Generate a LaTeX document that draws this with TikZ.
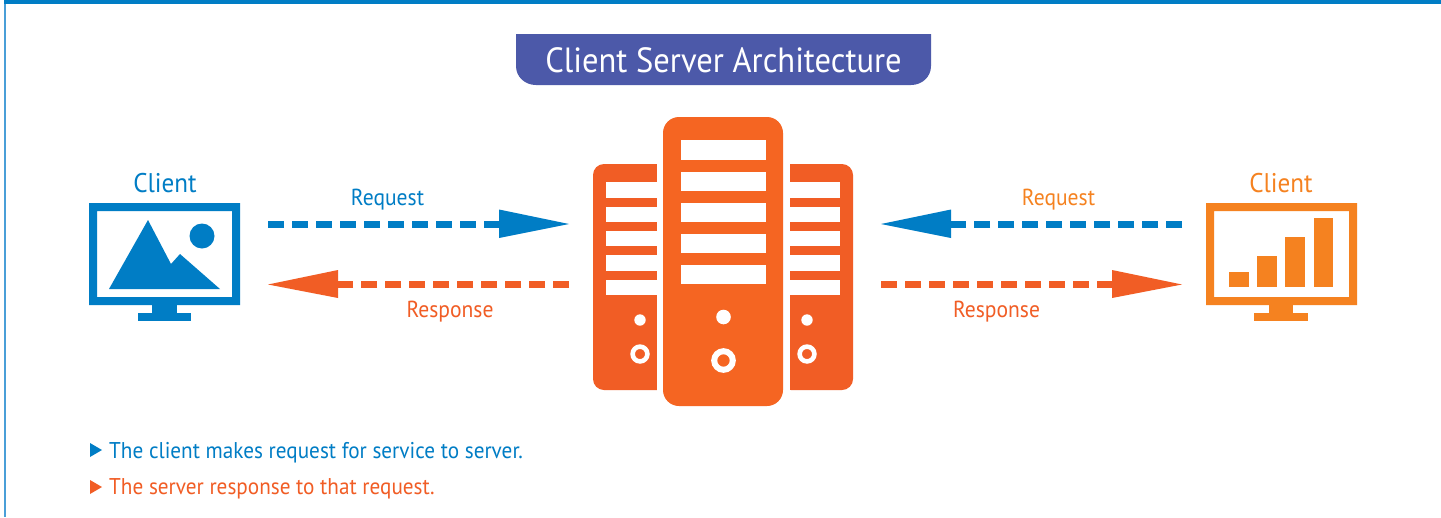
\documentclass[tikz,border=0pt]{standalone}
\usepackage{fontspec}
\setmainfont[FakeStretch=0.93]{PT Sans}
\definecolor{cblue}{HTML}{007DC5}
\definecolor{cedge}{HTML}{4A9FD8}
\definecolor{corange}{HTML}{F58220}
\definecolor{cred}{HTML}{F15D25}
\definecolor{cmid}{HTML}{F56522}
\definecolor{ctitle}{HTML}{4C59A9}
\tikzset{x=1pt,y=-1pt,
 lbl/.style={inner sep=0pt,font=\fontsize{23.2}{26}\selectfont},
 dashline/.style={line width=7pt,dash pattern=on 16pt off 8pt}}
\begin{document}
\begin{tikzpicture}
\useasboundingbox (0,0) rectangle (1441,517);
\fill[white] (0,0) rectangle (1441,517);
\fill[cblue] (4,0) rectangle (1441,4);
\fill[cedge] (4,4) rectangle (6,517);
% title
\fill[ctitle] (516,34) -- (931,34) -- (931,66) .. controls (931,77) and (922,85) .. (911,85) -- (536,85) .. controls (525,85) and (516,77) .. (516,66) -- cycle;
\node[lbl,white,font=\fontsize{35}{40}\selectfont] (title) at (723.5,60) {Client Server Architecture};
% left client
\node[lbl,text=cblue,font=\fontsize{27}{30}\selectfont] (cl) at (165,183) {Client};
\fill[cblue,even odd rule] (89,203) rectangle (240,305) (97,211) rectangle (232,297);
\fill[cblue] (152,305) rectangle (177,313);
\fill[cblue] (138,313) rectangle (191,321);
\fill[cblue] (109,289) -- (148,220) -- (171,264) -- (180,254) -- (220,289) -- cycle;
\fill[cblue] (202,236) circle (12.5);
% right client
\node[lbl,text=corange,font=\fontsize{27}{30}\selectfont] (cr) at (1281,183) {Client};
\fill[corange,even odd rule] (1206,203) rectangle (1357,305) (1214,211) rectangle (1349,297);
\fill[corange] (1269,305) rectangle (1293,313);
\fill[corange] (1254,313) rectangle (1308,321);
\fill[corange] (1229,272) rectangle (1249,287);
\fill[corange] (1257,256) rectangle (1277,287);
\fill[corange] (1285,237) rectangle (1305,287);
\fill[corange] (1314,218) rectangle (1333,287);
% left server
\fill[cred,rounded corners=11pt] (593,164) rectangle (670,390);
\fill[white] (657,160) rectangle (664,394);
\fill[white] (606,182) rectangle (657,197.5);
\fill[white] (606,206.5) rectangle (657,221.5);
\fill[white] (606,231) rectangle (657,246);
\fill[white] (606,255) rectangle (657,270.5);
\fill[white] (606,279.5) rectangle (657,294.5);
\fill[white] (640,320) circle (5.7);
\draw[white,line width=4.6pt] (640,354) circle (7.4);
% right server
\fill[cred,rounded corners=11pt] (780,164) rectangle (853,390);
\fill[white] (783,160) rectangle (790,394);
\fill[white] (790,182) rectangle (840,197.5);
\fill[white] (790,206.5) rectangle (840,221.5);
\fill[white] (790,231) rectangle (840,246);
\fill[white] (790,255) rectangle (840,270.5);
\fill[white] (790,279.5) rectangle (840,294.5);
\fill[white] (807,320) circle (5.7);
\draw[white,line width=4.6pt] (807,354) circle (7.4);
% middle server
\fill[cmid,rounded corners=16pt] (663,117) rectangle (783,406);
\fill[white] (681,140) rectangle (766,159.5);
\fill[white] (681,171.5) rectangle (766,191);
\fill[white] (681,202.5) rectangle (766,222);
\fill[white] (681,234) rectangle (766,253);
\fill[white] (681,265) rectangle (766,284);
\fill[white] (723.5,317) circle (7.3);
\draw[white,line width=6pt] (723.5,360.5) circle (9.3);
% connectors
\coordinate (a1) at (268,224); \coordinate (a2) at (569,224);
\coordinate (b1) at (569,284.5); \coordinate (b2) at (268,284.5);
\coordinate (c1) at (1182,224); \coordinate (c2) at (881,224);
\coordinate (d1) at (881,284.5); \coordinate (d2) at (1182,284.5);
\draw[cblue,dashline] (a1) -- (499,224);
\fill[cblue] (499,209.5) -- (a2) -- (499,238) -- cycle;
\draw[cred,dashline] (b1) -- (338,284.5);
\fill[cred] (338,270) -- (b2) -- (338,298) -- cycle;
\draw[cblue,dashline] (c1) -- (951,224);
\fill[cblue] (951,209.5) -- (c2) -- (951,238) -- cycle;
\draw[cred,dashline] (d1) -- (1112,284.5);
\fill[cred] (1112,270) -- (d2) -- (1112,298) -- cycle;
\node[lbl,text=cblue] (l1) at (387.5,199.5) {Request};
\node[lbl,text=cred] (l2) at (450,311.5) {Response};
\node[lbl,text=corange] (l3) at (1058.5,199.5) {Request};
\node[lbl,text=cred] (l4) at (996.5,311.5) {Response};
% bullets
\fill[cblue] (90,443) -- (102,450) -- (90,457) -- cycle;
\fill[cred] (90,480) -- (102,487) -- (90,494) -- cycle;
\node[lbl,text=cblue,anchor=west,font=\fontsize{22.8}{26}\selectfont] (t1) at (109,452.5) {The client makes request for service to server.};
\node[lbl,text=cred,anchor=west,font=\fontsize{22.8}{26}\selectfont] (t2) at (109,488.5) {The server response to that request.};
\end{tikzpicture}
\end{document}
